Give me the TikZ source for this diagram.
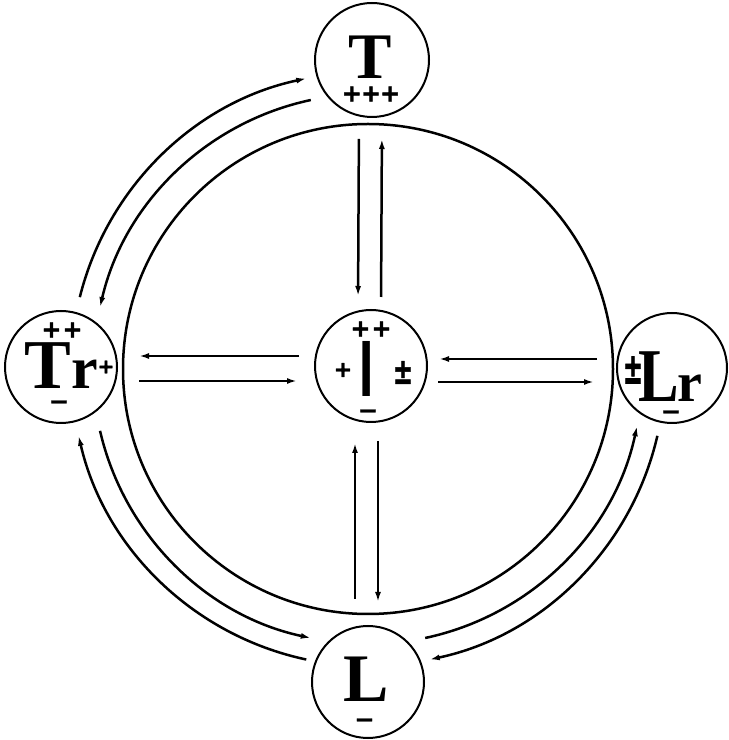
\documentclass[tikz,border=0pt]{standalone}
\usepackage{fontspec}
\usepackage{graphicx}
\setmainfont{Liberation Serif}
\newfontfamily\sgfont{DejaVu Sans}[BoldFeatures={FakeBold=1.5}]
\newfontfamily\lsfont{Liberation Sans}
\usetikzlibrary{arrows.meta,calc}
\tikzset{
  bub/.style={circle,draw,line width=2pt,inner sep=0pt},
  arr/.style={line width=2.5pt,-{Latex[length=10pt,width=6pt]}},
  sgn/.style={inner sep=0pt,font=\sgfont\bfseries\fontsize{24}{24}\selectfont},
  ltr/.style={inner sep=0pt,anchor=base},
}
\begin{document}
\begin{tikzpicture}[x=1pt,y=1pt]
\useasboundingbox (0,0) rectangle (729,740);
\coordinate (C) at (368,371);
\node[circle,draw,line width=2.5pt,minimum size=490pt,inner sep=0pt] (ring) at (C) {};
\node[bub,minimum size=114pt] (T) at (372,680) {};
\node[bub,minimum size=112pt] (Tr) at (61,373) {};
\node[bub,minimum size=112pt] (I) at (371,374) {};
\node[bub,minimum size=110pt] (Lr) at (672,372) {};
\node[bub,minimum size=112pt] (L) at (368,58) {};

% T
\node[ltr,font=\bfseries\fontsize{65}{65}\selectfont] (Tt) at (370,661) {T};
\node[sgn] (Tp) at (371,646) {+\kern-1pt+\kern-1pt+};
% Tr
\node[sgn] (Trp) at (62,410) {+\kern1pt+};
\node[ltr,font=\bfseries\fontsize{70}{70}\selectfont] (Trt) at (48,351) {T};
\node[ltr,font=\bfseries\fontsize{60}{60}\selectfont] (Trr) at (85,351) {r};
\node[sgn,font=\sgfont\bfseries\fontsize{20}{20}\selectfont] (Trs) at (106,373) {+};
\node[sgn] (Trm) at (59,335) {−};
% I
\node[sgn] (Ip) at (371,411) {+\kern1pt+};
\node[ltr,font=\lsfont\fontsize{80}{80}\selectfont] (It) at (367,343) {I};
\node[sgn,font=\sgfont\bfseries\fontsize{22}{22}\selectfont] (Il) at (343,370) {+};
\node[sgn] (Ir) at (403,367.5) {\scalebox{1}[1.5]{±}};
\node[sgn] (Im) at (368,326) {−};
% Lr
\node[sgn] (Lrs) at (633,370) {\scalebox{1}[1.8]{±}};
\node[ltr,font=\bfseries\fontsize{76}{76}\selectfont] (Lrl) at (659,338) {\scalebox{0.8}[1]{L}};
\node[ltr,font=\bfseries\fontsize{56}{56}\selectfont] (Lrr) at (690,338) {r};
\node[sgn] (Lrm) at (671,325) {−};
% L
\node[ltr,font=\bfseries\fontsize{68}{68}\selectfont] (Lt) at (366,38) {L};
\node[sgn] (Lm) at (364.5,17) {−};

% straight arrows
\draw[arr,shorten <=21pt,shorten >=13pt] ([xshift=-13pt]T.south) -- ([xshift=-13pt]I.north);
\draw[arr,shorten <=12pt,shorten >=21pt] ([xshift=10pt]I.north) -- ([xshift=10pt]T.south);
\draw[arr,shorten <=26pt,shorten >=20pt] ([xshift=-13pt]L.north) -- ([xshift=-16pt]I.south);
\draw[arr,shorten <=18pt,shorten >=23pt] ([xshift=7pt]I.south) -- ([xshift=10pt]L.north);
\draw[arr,shorten <=15pt,shorten >=21pt] ([yshift=10pt]I.west) -- ([yshift=11pt]Tr.east);
\draw[arr,shorten <=21pt,shorten >=17pt] ([yshift=-14pt]Tr.east) -- ([yshift=-15pt]I.west);
\draw[arr,shorten <=19pt,shorten >=11pt] ([yshift=9pt]Lr.west) -- ([yshift=7pt]I.east);
\draw[arr,shorten <=10pt,shorten >=22pt] ([yshift=-16pt]I.east) -- ([yshift=-14pt]Lr.west);

% arcs
\draw[arr] ($(C)+(166:297)$) arc[start angle=166,end angle=102,radius=297];
\draw[arr] ($(C)+(102:275)$) arc[start angle=102,end angle=167,radius=275];
\draw[arr] ($(C)+(-13:297)$) arc[start angle=-13,end angle=-78,radius=297];
\draw[arr] ($(C)+(-78:275)$) arc[start angle=-78,end angle=-12,radius=275];
\draw[arr] ($(C)+(258:297)$) arc[start angle=258,end angle=193,radius=297];
\draw[arr] ($(C)+(193:275)$) arc[start angle=193,end angle=258,radius=275];
\end{tikzpicture}
\end{document}
